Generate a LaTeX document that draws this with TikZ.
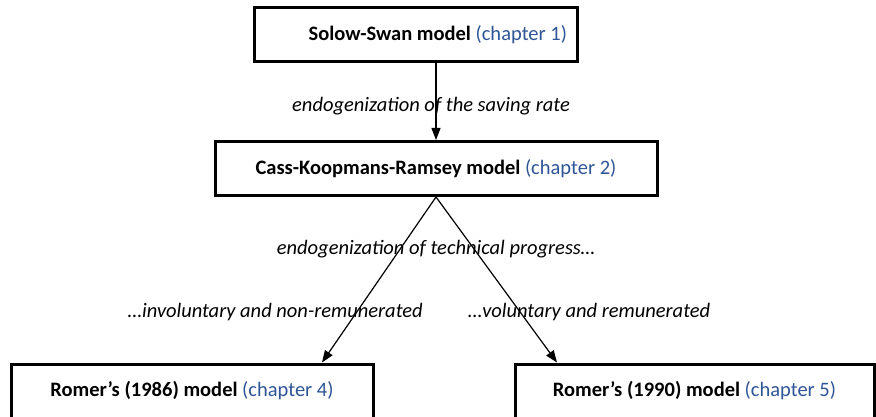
\documentclass[tikz,border=0pt]{standalone}
\usepackage{fontspec}
\setmainfont{Carlito}
\usepackage{xcolor}
\usetikzlibrary{arrows.meta}
\definecolor{chapblue}{RGB}{47,85,151}

\begin{document}
\begin{tikzpicture}[x=1pt, y=-1pt, font=\fontsize{20.5}{24}\selectfont,
	model/.style={draw, line width=3pt, minimum height=54pt, inner sep=0pt},
	link/.style={line width=1.2pt, -{Triangle[length=12pt, width=9pt]}},
	endo/.style={font=\fontsize{20.5}{24}\selectfont\itshape, inner sep=1pt}]
	\useasboundingbox (0,0) rectangle (876,417);
	\clip (0,0) rectangle (876,417);

	% Define the nodes with specific positions
	\node[model, text width=303pt, inner xsep=10pt, align=flush right] (solow) at (415.5, 35) {\mbox{\textbf{Solow-Swan model} \textcolor{chapblue}{(chapter 1)}}};
	\node[model, minimum width=442pt] (ckr) at (436, 168.5) {\textbf{Cass-Koopmans-Ramsey model} \textcolor{chapblue}{(chapter 2)}};
	\node[model, minimum width=362pt] (romer86) at (192, 391) {\textbf{Romer’s (1986) model} \textcolor{chapblue}{(chapter 4)}};
	\node[model, minimum width=359pt] (romer90) at (694.5, 391) {\textbf{Romer’s (1990) model} \textcolor{chapblue}{(chapter 5)}};

	\coordinate (forkx) at (436, 0);
	\coordinate (tip86) at (322, 0);
	\coordinate (tip90) at (557, 0);

	% Draw the edges between nodes with labels
	\draw[link] (solow.south -| forkx) -- node[endo, pos=0.56, xshift=-5pt] (savinglbl) {endogenization of the saving rate} (ckr.north -| forkx);
	\draw[link] (ckr.south -| forkx) -- (romer86.north -| tip86);
	\draw[link] (ckr.south -| forkx) -- (romer90.north -| tip90);

	\node[endo] (techlbl) at (436, 249) {endogenization of technical progress…};
	\node[endo, anchor=east] (involbl) at (424, 312) {…involuntary and non-remunerated};
	\node[endo, anchor=west] (vollbl) at (467, 312) {…voluntary and remunerated};
\end{tikzpicture}
\end{document}
